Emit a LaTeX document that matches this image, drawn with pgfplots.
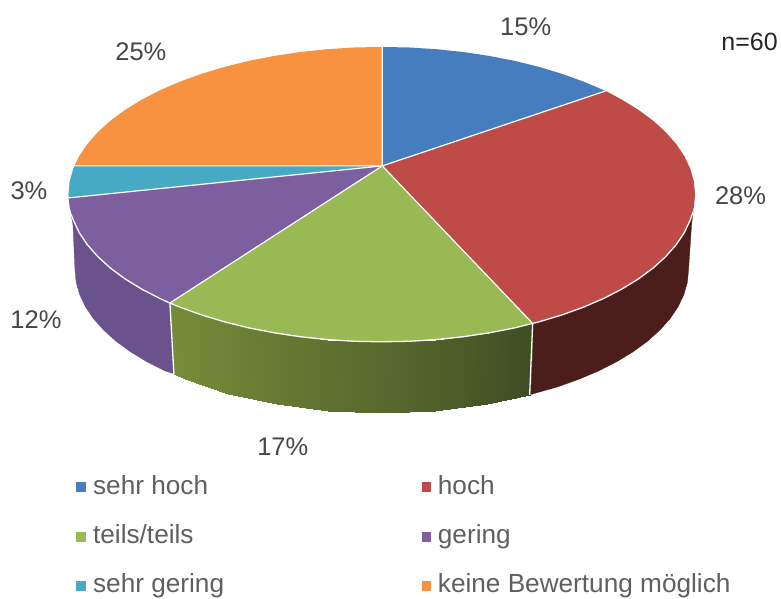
\documentclass[border=0pt]{standalone}
\usepackage{fontspec}
\setmainfont{Liberation Sans}
\usepackage{pgfplots}
\usepackage{pgfplotstable}
\pgfplotsset{compat=1.18}
\definecolor{cblue}{RGB}{70,125,190}
\definecolor{cred}{RGB}{190,75,72}
\definecolor{cgreen}{RGB}{152,185,84}
\definecolor{cpurple}{RGB}{125,95,160}
\definecolor{ccyan}{RGB}{70,170,196}
\definecolor{corange}{RGB}{246,146,64}
\definecolor{sred}{RGB}{75,29,27}
\definecolor{spurple}{RGB}{106,82,140}
\definecolor{lab}{RGB}{70,70,70}
\definecolor{leg}{RGB}{95,95,95}
\tikzset{
  pct/.style={font=\fontsize{25.5}{25.5}\selectfont, text=lab},
  legtxt/.style={font=\fontsize{26.2}{26.2}\selectfont, text=leg, anchor=base west, inner sep=0pt},
}

% outlines of the slices in pixels (15, 28, 17, 12, 3, 25 percent)
\pgfplotstableread{
x y
382.5 166
382 47
409.3 47.5
436.4 49.2
463.1 52
489.2 55.9
514.5 60.8
538.8 66.8
561.8 73.7
583.5 81.5
606 91
}\sehrhoch
\pgfplotstableread{
x y
382.5 166
606 91
622.2 99.7
638.8 109.9
653.5 120.75
666.1 132.2
676.6 144.1
684.8 156.3
690.7 168.9
694.3 181.6
695.5 194.5
694.3 207.4
690.7 220.1
684.8 232.7
676.6 244.9
666.1 256.8
653.5 268.25
638.8 279.1
622.2 289.3
603.7 298.8
583.5 307.5
561.8 315.3
538.8 322.2
533 323.6
}\hoch
\pgfplotstableread{
x y
382.5 166
533 323.6
514.5 328.2
489.2 333.1
463.1 337
436.4 339.8
409.3 341.5
382 342
354.7 341.5
327.6 339.8
300.9 337
274.8 333.1
249.5 328.2
225.2 322.2
202.2 315.3
180.5 307.5
170 303.2
}\teils
\pgfplotstableread{
x y
382.5 166
170 303.2
160.3 298.8
141.8 289.3
125.2 279.1
110.5 268.25
97.9 256.8
87.4 244.9
79.2 232.7
73.3 220.1
69.7 207.4
68.7 198
}\gering
\pgfplotstableread{
x y
382.5 166
68.7 198
68.5 194.5
69.7 181.6
73.3 168.9
74.5 166
}\sehrgering
\pgfplotstableread{
x y
382.5 166
74.5 166
79.2 156.3
87.4 144.1
97.9 132.2
110.5 120.75
125.2 109.9
141.8 99.7
160.3 90.2
180.5 81.5
202.2 73.7
225.2 66.8
249.5 60.8
274.8 55.9
300.9 52
327.6 49.2
354.7 47.5
382 47
}\keine
% side walls
\pgfplotstableread{
x y
693.5 212
690.7 220.1
684.8 232.7
676.6 244.9
666.1 256.8
653.5 268.25
638.8 279.1
622.2 289.3
603.7 298.8
583.5 307.5
561.8 315.3
538.8 322.2
533 323.6
530 395
558.1 387.1
579.3 379.5
599.1 371.1
617.2 361.9
633.5 352
647.9 341.5
660.2 330.4
670.5 318.9
678.5 307
684.3 294.8
687.8 282.5
689 270
692 225
}\sidehoch
\pgfplotstableread{
x y
170 303.2
160.3 298.8
141.8 289.3
125.2 279.1
110.5 268.25
97.9 256.8
87.4 244.9
79.2 232.7
73.3 220.1
71 214
73 225
75 270
76.2 282.5
79.7 294.8
85.5 307
93.5 318.9
103.8 330.4
116.1 341.5
130.5 352
146.8 361.9
164.9 371.1
174 374
}\sidegering
\pgfplotstableread{
x y c
170 303.2 0
180.5 307.5 0.03
184.7 379.5 0.03
174 374 0
180.5 307.5 0.03
225.2 322.2 0.15
228.5 393.8 0.15
184.7 379.5 0.03
225.2 322.2 0.15
274.8 333.1 0.29
277 404.4 0.29
228.5 393.8 0.15
274.8 333.1 0.29
327.6 339.8 0.44
328.7 410.8 0.44
277 404.4 0.29
327.6 339.8 0.44
382 342 0.59
382 413 0.59
328.7 410.8 0.44
382 342 0.59
436.4 339.8 0.73
435.3 410.8 0.73
382 413 0.59
436.4 339.8 0.73
489.2 333.1 0.88
487 404.4 0.88
435.3 410.8 0.73
489.2 333.1 0.88
533 323.6 1
530 395 1
487 404.4 0.88
}\sideteils

\begin{document}
\begin{tikzpicture}
\begin{axis}[
  scale only axis, width=781pt, height=597pt,
  xmin=0, xmax=781, ymin=0, ymax=597, y dir=reverse,
  ticks=none, axis line style={draw=none}, clip=false,
  colormap={sidegreen}{rgb255=(118,140,58) rgb255=(100,120,50) rgb255=(85,100,45) rgb255=(60,78,35)},
  point meta min=0, point meta max=1,
]
  % walls first, the top goes over them
  \addplot[fill=sred, draw=sred, line width=0.3pt] table {\sidehoch} --cycle;
  \addplot[fill=spurple, draw=spurple, line width=0.3pt] table {\sidegering} --cycle;
  \addplot[patch, patch type=rectangle, shader=interp, point meta=explicit] table[meta=c] {\sideteils};
  \addplot[white, line width=1.3pt] coordinates {(533,323.6) (530,395)};
  \addplot[white, line width=1.3pt] coordinates {(170,303.2) (174,374)};

  \addplot[fill=cblue, draw=none] table {\sehrhoch} --cycle;
  \addplot[fill=cred, draw=none] table {\hoch} --cycle;
  \addplot[fill=cgreen, draw=none] table {\teils} --cycle;
  \addplot[fill=cpurple, draw=none] table {\gering} --cycle;
  \addplot[fill=ccyan, draw=none] table {\sehrgering} --cycle;
  \addplot[fill=corange, draw=none] table {\keine} --cycle;

  % white seams
  \addplot[white, line width=1.2pt, line join=round] coordinates {(382.5,47) (382.5,166) (606,91)};
  \addplot[white, line width=1.2pt, line join=round] coordinates {(74.5,166) (382.5,166) (533,323.6)};
  \addplot[white, line width=1.2pt, line join=round] coordinates {(68.7,198) (382.5,166) (170,303.2)};
  \addplot[white, line width=1.3pt, line join=round] coordinates {
    (693.5,212) (690.7,220.1) (684.8,232.7) (676.6,244.9) (666.1,256.8) (653.5,268.25) (638.8,279.1)
    (622.2,289.3) (603.7,298.8) (583.5,307.5) (561.8,315.3) (538.8,322.2) (533,323.6) (514.5,328.2)
    (489.2,333.1) (463.1,337) (436.4,339.8) (409.3,341.5) (382,342) (354.7,341.5) (327.6,339.8)
    (300.9,337) (274.8,333.1) (249.5,328.2) (225.2,322.2) (202.2,315.3) (180.5,307.5) (170,303.2)
    (160.3,298.8) (141.8,289.3) (125.2,279.1) (110.5,268.25) (97.9,256.8) (87.4,244.9) (79.2,232.7)
    (73.3,220.1) (71,214)};

  % legend markers
  \addplot[only marks, mark=square*, mark size=4.3pt, color=cblue] coordinates {(80.5,487)};
  \addplot[only marks, mark=square*, mark size=4.3pt, color=cred] coordinates {(426.5,487)};
  \addplot[only marks, mark=square*, mark size=4.3pt, color=cgreen] coordinates {(80.5,537)};
  \addplot[only marks, mark=square*, mark size=4.3pt, color=cpurple] coordinates {(426.5,537)};
  \addplot[only marks, mark=square*, mark size=4.3pt, color=ccyan] coordinates {(80.5,586)};
  \addplot[only marks, mark=square*, mark size=4.3pt, color=corange] coordinates {(426.5,586)};

  \node[pct] at (axis cs:526,27) {15\%};
  \node[pct] at (axis cs:741,196) {28\%};
  \node[pct] at (axis cs:283,447) {17\%};
  \node[pct] at (axis cs:36,320) {12\%};
  \node[pct] at (axis cs:29,191) {3\%};
  \node[pct] at (axis cs:141,52) {25\%};
  \node[font=\fontsize{25}{25}\selectfont, text=black!85] at (axis cs:750,42) {n=60};
  \node[legtxt] at (axis cs:93,495) {sehr hoch};
  \node[legtxt] at (axis cs:438,495) {hoch};
  \node[legtxt] at (axis cs:93,544) {teils/teils};
  \node[legtxt] at (axis cs:438,544) {gering};
  \node[legtxt] at (axis cs:93,593) {sehr gering};
  \node[legtxt] at (axis cs:438,593) {keine Bewertung möglich};
\end{axis}
\end{tikzpicture}
\end{document}
